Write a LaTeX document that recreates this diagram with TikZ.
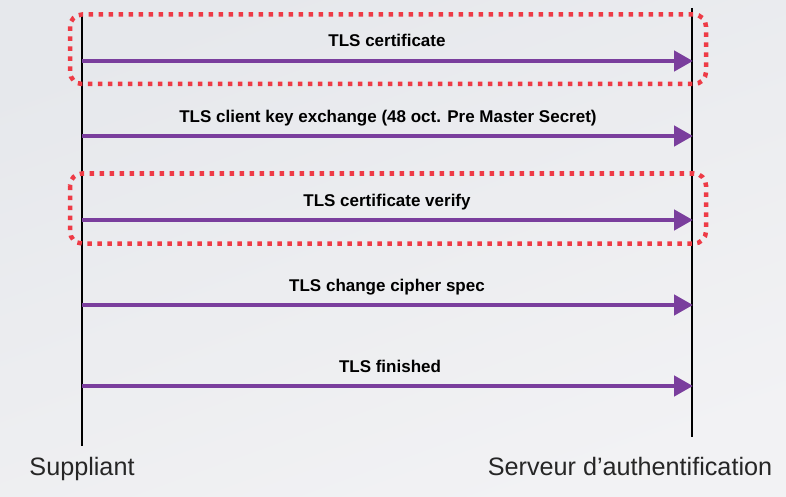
\documentclass[tikz,border=0pt]{standalone}
\usepackage{fontspec}
\setmainfont{Liberation Sans}
\usetikzlibrary{arrows.meta}
\definecolor{msgpurple}{HTML}{7A3E9D}
\definecolor{boxred}{HTML}{EE3B46}
\definecolor{bgtop}{HTML}{E6E8EC}
\definecolor{bgbot}{HTML}{F2F2F4}
\begin{document}
\begin{tikzpicture}[x=1pt,y=-1pt,
  lifeline/.style={line width=1.6pt,black},
  msg/.style={line width=4.5pt,msgpurple,-{Triangle[length=19pt,width=20pt]}},
  msglabel/.style={anchor=base,inner sep=0pt,font=\bfseries\fontsize{17}{20}\selectfont},
  actor/.style={anchor=base,inner sep=0pt,text=black!85,font=\fontsize{25.2}{30}\selectfont},
  redbox/.style={boxred,line width=4.5pt,dash pattern=on 4.5pt off 5.5pt,rounded corners=12pt}]
\shade[top color=bgtop,bottom color=bgbot,shading angle=20] (0,0) rectangle (786,497);
\useasboundingbox (0,0) rectangle (786,497);
% lifelines
\coordinate (ltop) at (82,14);
\coordinate (lbot) at (82,446);
\coordinate (rtop) at (692,8);
\coordinate (rbot) at (692,437);
\draw[lifeline] (ltop) -- (lbot);
\draw[lifeline] (rtop) -- (rbot);
% dotted boxes
\draw[redbox] (70,14.5) rectangle (706,84);
\draw[redbox] (70,173.5) rectangle (706,243.5);
% messages
\foreach \i/\y in {1/61,2/136,3/220,4/305,5/386}{
  \coordinate (a\i) at (82,\y);
  \coordinate (b\i) at (693,\y);
}
\foreach \i in {1,...,5}{\draw[msg] (a\i) -- (b\i);}
\node[msglabel] (m1) at (387,47) {TLS certificate};
\node[msglabel] (m2) at (388,123) {TLS client key exchange (48 oct. Pre Master Secret)};
\node[msglabel] (m3) at (387,206) {TLS certificate verify};
\node[msglabel] (m4) at (387,291) {TLS change cipher spec};
\node[msglabel] (m5) at (390,372) {TLS finished};
% actors
\node[actor] (sup) at (82,475) {Suppliant};
\node[actor] (srv) at (630,475) {Serveur d’authentification};
\end{tikzpicture}
\end{document}
